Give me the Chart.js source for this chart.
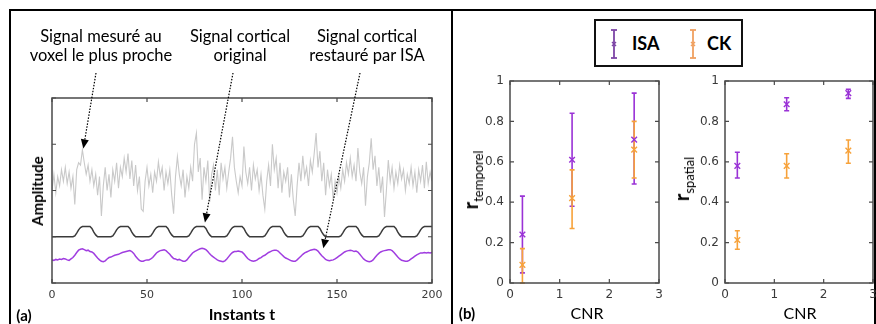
<!DOCTYPE html>
<html>
<head>
<meta charset="utf-8">
<script src="https://cdn.jsdelivr.net/npm/chart.js@4/dist/chart.umd.min.js"></script>
<style>
  html, body { margin:0; padding:0; background:#fff; width:876px; height:324px; overflow:hidden; }
  #page { position:relative; width:876px; height:324px; overflow:hidden; }
  canvas { position:absolute; left:0; top:0; }
  .line { position:absolute; background:#000; }
  .txt { position:absolute; font-family:Lato, "Open Sans", sans-serif; color:#000; white-space:nowrap; }
  .ann { font-size:16.5px; text-align:center; line-height:19.5px; transform:translateX(-50%); }
  .bold { font-weight:bold; }
  .rot { transform:translate(-50%,-50%) rotate(-90deg); }
  .ctr { transform:translate(-50%,-50%); }
  #legend { position:absolute; left:594px; top:19px; width:145px; height:44px; border:2px solid #111; background:#fff; }
</style>
</head>
<body>
<div id="page">
  <div class="line" style="left:9px;top:9px;width:867px;height:2px;"></div>
  <div class="line" style="left:9px;top:9px;width:2px;height:315px;"></div>
  <div class="line" style="left:451px;top:9px;width:2px;height:315px;"></div>
  <div class="line" style="left:874px;top:9px;width:2px;height:315px;"></div>

  <canvas id="cA" width="876" height="324"></canvas>
  <canvas id="cT" width="900" height="324"></canvas>
  <canvas id="cS" width="900" height="324"></canvas>

  <div class="txt ann" style="left:101px;top:26.5px;">Signal mesuré au<br>voxel le plus proche</div>
  <div class="txt ann" style="left:240px;top:26.5px;">Signal cortical<br>original</div>
  <div class="txt ann" style="left:367px;top:26.5px;">Signal cortical<br>restauré par ISA</div>

  <div class="txt bold rot" style="left:37px;top:191px;font-size:15px;">Amplitude</div>
  <div class="txt bold ctr" style="left:242px;top:313px;font-size:16px;">Instants t</div>
  <div class="txt bold ctr" style="left:24px;top:315px;font-size:15px;">(a)</div>
  <div class="txt bold ctr" style="left:467px;top:313px;font-size:15px;">(b)</div>

  <div class="txt ctr" style="left:587px;top:312px;font-size:16px;">CNR</div>
  <div class="txt ctr" style="left:800px;top:312px;font-size:16px;">CNR</div>
  <div class="txt rot" style="left:472px;top:180px;font-size:20px;"><b>r</b><sub style="font-size:13px;">temporel</sub></div>
  <div class="txt rot" style="left:683px;top:179px;font-size:20px;"><b>r</b><sub style="font-size:13px;">spatial</sub></div>

  <div id="legend">
    <svg style="position:absolute;left:13px;top:8px;" width="10" height="30">
      <line x1="5" y1="1" x2="5" y2="29" stroke="#7d45a6" stroke-width="1.8"/>
      <line x1="2" y1="1" x2="8" y2="1" stroke="#7d45a6" stroke-width="1.8"/>
      <line x1="2" y1="29" x2="8" y2="29" stroke="#7d45a6" stroke-width="1.8"/>
      <line x1="3" y1="13" x2="7" y2="17" stroke="#7d45a6" stroke-width="1.4"/>
      <line x1="3" y1="17" x2="7" y2="13" stroke="#7d45a6" stroke-width="1.4"/>
    </svg>
    <div class="txt bold" style="left:36px;top:11px;font-size:18px;">ISA</div>
    <svg style="position:absolute;left:92px;top:8px;" width="10" height="30">
      <line x1="5" y1="1" x2="5" y2="29" stroke="#f0a060" stroke-width="1.8"/>
      <line x1="2" y1="1" x2="8" y2="1" stroke="#f0a060" stroke-width="1.8"/>
      <line x1="2" y1="29" x2="8" y2="29" stroke="#f0a060" stroke-width="1.8"/>
      <line x1="3" y1="13" x2="7" y2="17" stroke="#f0a060" stroke-width="1.4"/>
      <line x1="3" y1="17" x2="7" y2="13" stroke="#f0a060" stroke-width="1.4"/>
    </svg>
    <div class="txt bold" style="left:111px;top:11px;font-size:18px;">CK</div>
  </div>
</div>

<script>
// ---------- Panel (a) data ----------
const instants = [];
for (let t = 0; t <= 200; t++) instants.push(t);   // time axis categories 0..200

const signalVoxel = [
  2.0, 2.35, 1.95, 2.3, 2.1, 2.45, 2.2, 2.5, 2.15, 2.4,
  2.05, 2.3, 1.7, 2.45, 2.6, 2.55, 2.88, 2.6, 2.35, 2.55,
  2.2, 2.45, 2.1, 2.35, 1.9, 2.3, 1.45, 2.1, 2.5, 2.0,
  2.35, 1.85, 2.45, 2.2, 2.6, 2.05, 2.5, 2.3, 2.7, 2.4,
  2.8, 2.25, 2.65, 2.1, 2.55, 2.0, 2.3, 1.6, 1.55, 2.2,
  2.5, 2.1, 2.35, 1.95, 2.4, 2.2, 2.62, 2.3, 2.5, 2.0,
  2.4, 2.15, 2.45, 1.9, 1.5, 2.3, 2.73, 2.35, 2.1, 2.45,
  1.85, 2.3, 2.05, 2.5, 2.2, 3.0, 3.24, 2.4, 2.7, 1.8,
  2.5, 2.2, 2.65, 1.75, 2.35, 2.55, 2.0, 2.45, 1.9, 2.6,
  2.25, 2.5, 2.05, 2.4, 2.7, 3.16, 2.5, 2.2, 1.95, 2.3,
  2.1, 2.95, 2.4, 2.15, 2.5, 2.0, 2.55, 2.25, 2.45, 2.0,
  2.35, 1.9, 1.6, 2.2, 2.55, 2.1, 3.0, 2.45, 2.7, 2.05,
  2.6, 1.95, 2.4, 2.2, 2.5, 1.85, 2.35, 1.8, 1.45, 2.1,
  2.6, 2.2, 2.75, 2.3, 2.5, 2.1, 2.65, 2.4, 2.8, 3.24,
  2.5, 2.85, 2.2, 2.6, 1.9, 2.45, 2.1, 2.35, 1.8, 2.2,
  1.95, 2.3, 2.05, 2.45, 2.2, 2.6, 2.35, 2.7, 2.3, 2.55,
  2.2, 2.92, 2.4, 2.15, 2.5, 1.67, 2.3, 2.6, 3.13, 2.45,
  2.75, 2.1, 2.5, 1.95, 2.3, 1.43, 2.0, 2.66, 2.2, 2.5,
  2.05, 2.4, 2.15, 2.55, 2.25, 2.45, 2.0, 2.35, 2.15, 2.5,
  2.1, 2.4, 1.95, 2.45, 2.2, 2.55, 2.05, 2.62, 2.15, 2.4,
  2.2
];

const signalOriginal = [
  1, 1, 1, 1, 1, 1, 1, 1, 1, 1, 1, 1, 1.02, 1.08, 1.15, 1.2, 1.22, 1.22, 1.22, 1.22, 1.22,
  1.18, 1.1, 1.04, 1, 1, 1, 1, 1, 1, 1, 1, 1.02, 1.08, 1.15, 1.2, 1.22, 1.22, 1.22, 1.22, 1.22,
  1.18, 1.1, 1.04, 1, 1, 1, 1, 1, 1, 1, 1, 1.02, 1.08, 1.15, 1.2, 1.22, 1.22, 1.22, 1.22, 1.22,
  1.18, 1.1, 1.04, 1, 1, 1, 1, 1, 1, 1, 1, 1.02, 1.08, 1.15, 1.2, 1.22, 1.22, 1.22, 1.22, 1.22,
  1.18, 1.1, 1.04, 1, 1, 1, 1, 1, 1, 1, 1, 1.02, 1.08, 1.15, 1.2, 1.22, 1.22, 1.22, 1.22, 1.22,
  1.18, 1.1, 1.04, 1, 1, 1, 1, 1, 1, 1, 1, 1.02, 1.08, 1.15, 1.2, 1.22, 1.22, 1.22, 1.22, 1.22,
  1.18, 1.1, 1.04, 1, 1, 1, 1, 1, 1, 1, 1, 1.02, 1.08, 1.15, 1.2, 1.22, 1.22, 1.22, 1.22, 1.22,
  1.18, 1.1, 1.04, 1, 1, 1, 1, 1, 1, 1, 1, 1.02, 1.08, 1.15, 1.2, 1.22, 1.22, 1.22, 1.22, 1.22,
  1.18, 1.1, 1.04, 1, 1, 1, 1, 1, 1, 1, 1, 1.02, 1.08, 1.15, 1.2, 1.22, 1.22, 1.22, 1.22, 1.22,
  1.18, 1.1, 1.04, 1, 1, 1, 1, 1, 1, 1, 1, 1.02, 1.08, 1.15, 1.2, 1.22, 1.22, 1.22, 1.22, 1.22
];

const signalRestored = [
  0.5, 0.49, 0.51, 0.5, 0.52, 0.51, 0.53, 0.52, 0.5, 0.49,
  0.52, 0.55, 0.6, 0.66, 0.71, 0.73, 0.74, 0.72, 0.7, 0.71,
  0.68, 0.67, 0.64, 0.59, 0.54, 0.5, 0.47, 0.46, 0.48, 0.52,
  0.55, 0.56, 0.58, 0.6, 0.61, 0.62, 0.64, 0.66, 0.67, 0.68,
  0.69, 0.7, 0.68, 0.64, 0.58, 0.53, 0.49, 0.47, 0.47, 0.49,
  0.5, 0.5, 0.52, 0.55, 0.6, 0.65, 0.68, 0.7, 0.71, 0.72,
  0.7, 0.66, 0.62, 0.57, 0.53, 0.52, 0.5, 0.51, 0.49, 0.47,
  0.47, 0.5, 0.55, 0.6, 0.65, 0.68, 0.7, 0.72, 0.74, 0.75,
  0.74, 0.72, 0.68, 0.63, 0.59, 0.56, 0.53, 0.5, 0.48, 0.47,
  0.46, 0.48, 0.52, 0.57, 0.62, 0.66, 0.68, 0.68, 0.69, 0.68,
  0.67, 0.63, 0.58, 0.53, 0.5, 0.48, 0.47, 0.48, 0.5, 0.53,
  0.55, 0.58, 0.6, 0.63, 0.66, 0.68, 0.7, 0.71, 0.71, 0.69,
  0.65, 0.61, 0.57, 0.54, 0.52, 0.5, 0.48, 0.47, 0.47, 0.5,
  0.54, 0.58, 0.62, 0.65, 0.67, 0.69, 0.71, 0.72, 0.73, 0.72,
  0.69, 0.64, 0.59, 0.55, 0.51, 0.49, 0.48, 0.49, 0.5, 0.52,
  0.55, 0.58, 0.61, 0.64, 0.67, 0.69, 0.7, 0.71, 0.7, 0.68,
  0.69, 0.67, 0.62, 0.57, 0.52, 0.49, 0.47, 0.46, 0.47, 0.5,
  0.55, 0.6, 0.64, 0.67, 0.69, 0.7, 0.71, 0.72, 0.72, 0.7,
  0.66, 0.61, 0.56, 0.52, 0.49, 0.48, 0.47, 0.47, 0.49, 0.52,
  0.55, 0.58, 0.61, 0.63, 0.65, 0.65, 0.66, 0.65, 0.66, 0.65,
  0.66
];

const timeTicks = [0, 50, 100, 150, 200];
const amplitudeTicks = [0, 1, 2, 3, 4];

// arrows: tip in data coordinates (t, amplitude), tail in page pixels (under the captions)
const arrowTipsT = [16.5, 80.5, 142.8];
const arrowTipsY = [2.91, 1.31, 0.75];
const arrowTailsPx = [[96, 73], [233, 73], [360, 73]];

// ---------- Panel (b) data ----------
const cnr = [0.25, 1.25, 2.5];
const cnrTicks = [0, 1, 2, 3];
const rTicks = [0, 0.2, 0.4, 0.6, 0.8, 1];

const tempIsaMean = [0.24, 0.61, 0.71];
const tempIsaLow  = [0.05, 0.38, 0.49];
const tempIsaHigh = [0.43, 0.84, 0.94];
const tempCkMean  = [0.09, 0.42, 0.66];
const tempCkLow   = [0.0, 0.27, 0.52];
const tempCkHigh  = [0.17, 0.56, 0.80];

const spatIsaMean = [0.58, 0.885, 0.94];
const spatIsaLow  = [0.52, 0.853, 0.914];
const spatIsaHigh = [0.647, 0.917, 0.959];
const spatCkMean  = [0.213, 0.58, 0.655];
const spatCkLow   = [0.167, 0.52, 0.593];
const spatCkHigh  = [0.259, 0.64, 0.708];

const ISA_COLOR = '#9a32d6';
const CK_COLOR = '#f7a23a';
const FRAME = '#4a4a4a';
const TICKFONT_A = { family: 'DejaVu Sans', size: 11 };
const TICKFONT_B = { family: 'DejaVu Sans', size: 12 };

// ---------- plugins ----------
const framePlugin = {
  id: 'frameTicks',
  afterDatasetsDraw(chart, args, opts) {
    const { ctx, chartArea: a } = chart;
    const xs = chart.scales.x, ys = chart.scales.y;
    ctx.save();
    ctx.strokeStyle = FRAME;
    ctx.lineWidth = 1.5;
    ctx.strokeRect(a.left, a.top, a.right - a.left, a.bottom - a.top);
    const L = opts.len || 4;
    ctx.lineWidth = 1.2;
    ctx.beginPath();
    (opts.xTicks || []).forEach(v => {
      const p = xs.getPixelForValue(v);
      ctx.moveTo(p, a.bottom); ctx.lineTo(p, a.bottom - L);
      ctx.moveTo(p, a.top); ctx.lineTo(p, a.top + L);
    });
    (opts.yTicks || []).forEach(v => {
      const p = ys.getPixelForValue(v);
      ctx.moveTo(a.left, p); ctx.lineTo(a.left + L, p);
      ctx.moveTo(a.right, p); ctx.lineTo(a.right - L, p);
    });
    ctx.stroke();
    ctx.restore();
  }
};

const errorBarPlugin = {
  id: 'errorBars',
  beforeDatasetsDraw(chart) {
    const { ctx } = chart;
    const xs = chart.scales.x, ys = chart.scales.y;
    ctx.save();
    chart.data.datasets.forEach(ds => {
      if (!ds.errLow) return;
      ctx.strokeStyle = ds.borderColor;
      ctx.lineWidth = 1.6;
      ds.data.forEach((pt, i) => {
        const x = xs.getPixelForValue(pt.x);
        const y1 = ys.getPixelForValue(ds.errLow[i]);
        const y2 = ys.getPixelForValue(ds.errHigh[i]);
        ctx.beginPath();
        ctx.moveTo(x, y1); ctx.lineTo(x, y2);
        ctx.moveTo(x - 2.5, y1); ctx.lineTo(x + 2.5, y1);
        ctx.moveTo(x - 2.5, y2); ctx.lineTo(x + 2.5, y2);
        ctx.stroke();
      });
    });
    ctx.restore();
  }
};

const arrowPlugin = {
  id: 'arrows',
  afterDraw(chart) {
    const { ctx } = chart;
    const xs = chart.scales.x, ys = chart.scales.y;
    ctx.save();
    arrowTipsT.forEach((t, i) => {
      const tx = xs.getPixelForValue(t), ty = ys.getPixelForValue(arrowTipsY[i]);
      const [sx, sy] = arrowTailsPx[i];
      const ang = Math.atan2(ty - sy, tx - sx);
      const head = 9, hw = 4;
      const bx = tx - head * Math.cos(ang), by = ty - head * Math.sin(ang);
      ctx.strokeStyle = '#000';
      ctx.lineWidth = 1.2;
      ctx.setLineDash([1.5, 1.5]);
      ctx.beginPath(); ctx.moveTo(sx, sy); ctx.lineTo(bx, by); ctx.stroke();
      ctx.setLineDash([]);
      ctx.fillStyle = '#000';
      ctx.beginPath();
      ctx.moveTo(tx, ty);
      ctx.lineTo(bx + hw * Math.sin(ang), by - hw * Math.cos(ang));
      ctx.lineTo(bx - hw * Math.sin(ang), by + hw * Math.cos(ang));
      ctx.closePath(); ctx.fill();
    });
    ctx.restore();
  }
};

// ---------- Chart (a) ----------
new Chart(document.getElementById('cA'), {
  type: 'line',
  data: {
    labels: instants,
    datasets: [
      { data: signalVoxel, borderColor: '#c9c9c9', borderWidth: 1.1 },
      { data: signalOriginal, borderColor: '#3a3a3a', borderWidth: 1.5 },
      { data: signalRestored, borderColor: '#a03de0', borderWidth: 1.5 }
    ]
  },
  options: {
    responsive: false, animation: false, devicePixelRatio: 1,
    layout: { padding: { left: 52, top: 98, right: 444, bottom: 21 } },
    elements: { point: { radius: 0 }, line: { tension: 0 } },
    plugins: { legend: { display: false }, tooltip: { enabled: false },
      frameTicks: { xTicks: timeTicks, yTicks: amplitudeTicks, len: 4 } },
    scales: {
      x: { type: 'linear', min: 0, max: 200,
        afterFit(s) { s.height = 20; },
        afterBuildTicks(s) { s.ticks = timeTicks.map(v => ({ value: v })); },
        grid: { display: false, drawTicks: false }, border: { display: false },
        ticks: { font: TICKFONT_A, color: '#3a3a3a', padding: 6, maxRotation: 0 } },
      y: { display: false, min: 0, max: 4 }
    }
  },
  plugins: [framePlugin, arrowPlugin]
});

// ---------- Charts (b) ----------
function makeCorr(id, padLeft, padRight, isaM, isaL, isaH, ckM, ckL, ckH) {
  return new Chart(document.getElementById(id), {
    type: 'scatter',
    data: {
      datasets: [
        { label: 'ISA', data: cnr.map((c, i) => ({ x: c, y: isaM[i] })), errLow: isaL, errHigh: isaH,
          borderColor: ISA_COLOR, backgroundColor: ISA_COLOR, pointStyle: 'crossRot', pointRadius: 4, borderWidth: 1.4 },
        { label: 'CK', data: cnr.map((c, i) => ({ x: c, y: ckM[i] })), errLow: ckL, errHigh: ckH,
          borderColor: CK_COLOR, backgroundColor: CK_COLOR, pointStyle: 'crossRot', pointRadius: 4, borderWidth: 1.4 }
      ]
    },
    options: {
      responsive: false, animation: false, devicePixelRatio: 1,
      layout: { padding: { left: padLeft, top: 81, right: padRight, bottom: 21 } },
      plugins: { legend: { display: false }, tooltip: { enabled: false },
        frameTicks: { xTicks: cnrTicks, yTicks: rTicks, len: 4 } },
      scales: {
        x: { type: 'linear', min: 0, max: 3,
          afterFit(s) { s.height = 20; },
          afterBuildTicks(s) { s.ticks = cnrTicks.map(v => ({ value: v })); },
          grid: { display: false, drawTicks: false }, border: { display: false },
          ticks: { font: TICKFONT_B, color: '#3a3a3a', padding: 5, maxRotation: 0 } },
        y: { type: 'linear', min: 0, max: 1,
          afterFit(s) { s.width = 35; },
          afterBuildTicks(s) { s.ticks = rTicks.map(v => ({ value: v })); },
          grid: { display: false, drawTicks: false }, border: { display: false },
          ticks: { font: TICKFONT_B, color: '#3a3a3a', padding: 6, callback: v => String(v) } }
      }
    },
    plugins: [errorBarPlugin, framePlugin]
  });
}
makeCorr('cT', 475, 900 - 659, tempIsaMean, tempIsaLow, tempIsaHigh, tempCkMean, tempCkLow, tempCkHigh);
makeCorr('cS', 690, 900 - 873, spatIsaMean, spatIsaLow, spatIsaHigh, spatCkMean, spatCkLow, spatCkHigh);
</script>
</body>
</html>
